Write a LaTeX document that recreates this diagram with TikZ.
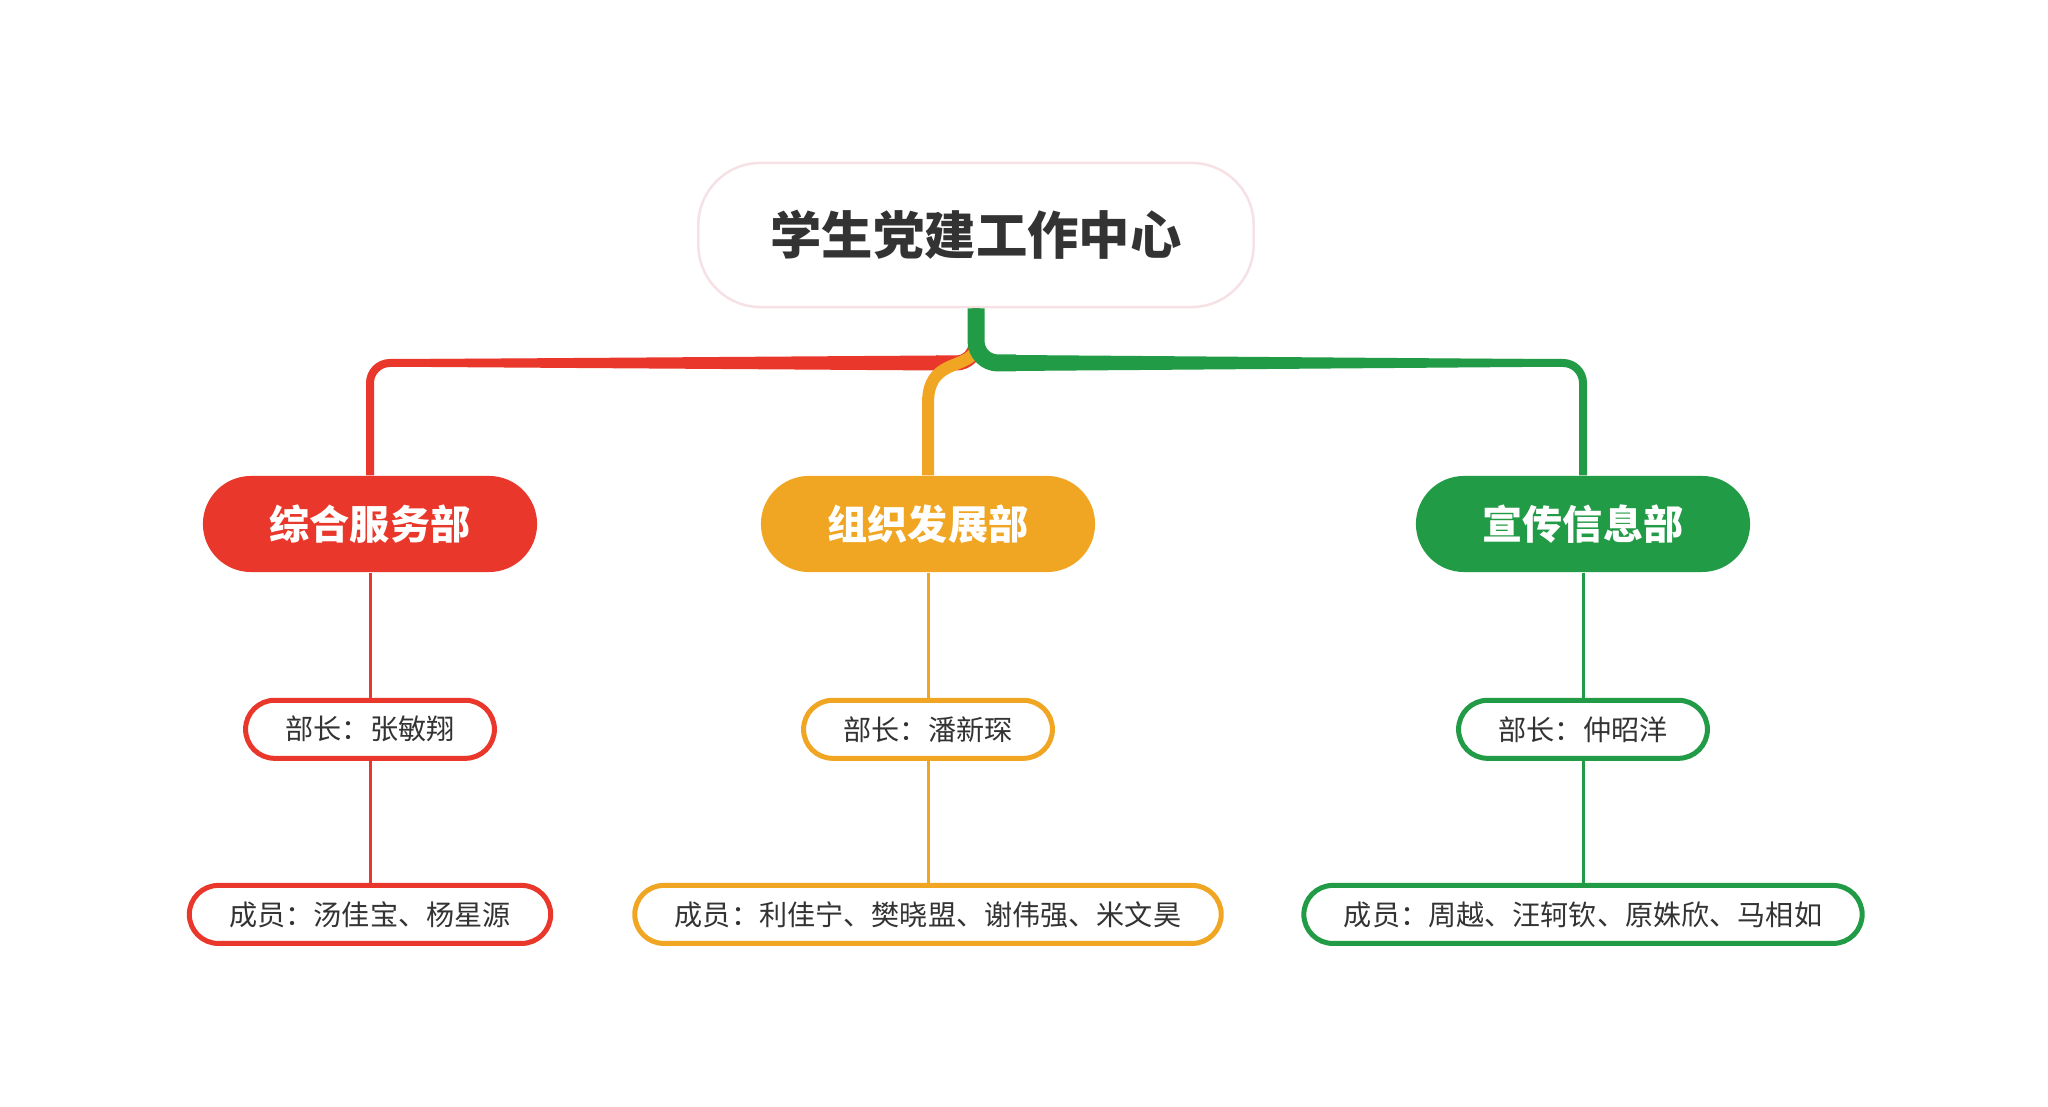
\documentclass[tikz,border=0pt]{standalone}
\usepackage{fontspec}
\setmainfont{Noto Sans CJK SC}
\usetikzlibrary{positioning,calc}
\definecolor{deptRed}{HTML}{E9382B}
\definecolor{deptOrange}{HTML}{F0A623}
\definecolor{deptGreen}{HTML}{219B45}
\definecolor{txtGray}{HTML}{333333}
\definecolor{glowPink}{HTML}{F6E1E5}
\begin{document}
\begin{tikzpicture}[x=0.01cm,y=-0.01cm]
\tikzset{centerbox/.style={draw=glowPink,line width=0.025cm,fill=white,rounded corners=0.62cm,
  minimum width=5.55cm,minimum height=1.44cm,text=txtGray,font=\bfseries\fontsize{14.6}{18}\selectfont}}
\tikzset{dept/.style={fill=#1,text=white,rounded corners=0.48cm,minimum width=3.34cm,
  minimum height=0.96cm,font=\bfseries\fontsize{11.4}{14}\selectfont}}
\tikzset{lead/.style={draw=#1,line width=0.05cm,fill=white,rounded corners=0.29cm,
  minimum height=0.58cm,inner xsep=0.4cm,text=txtGray,font=\fontsize{8}{10}\selectfont}}
\tikzset{branch/.style={draw=#1,line width=0.03cm}}
\useasboundingbox (0,0) rectangle (2048,1107);
%centre
\node[centerbox] (ctr) at (976,235) {学生党建工作中心};
\coordinate (hub) at (976,363);
%departments, heads and members
\foreach \key/\xLoc/\col/\dname/\hname/\mname in {
  R/370/deptRed/综合服务部/张敏翔/汤佳宝、杨星源,
  O/928/deptOrange/组织发展部/潘新琛/利佳宁、樊晓盟、谢伟强、米文昊,
  G/1583/deptGreen/宣传信息部/仲昭洋/周越、汪轲钦、原姝欣、马相如}{
\node[dept=\col] (d\key) at (\xLoc,524) {\dname};
\node[lead=\col,below=1.25cm of d\key] (l\key) {部长：\hname};
\node[lead=\col,below=1.22cm of l\key] (m\key) {成员：\mname};
\draw[branch=\col] (d\key.south)--(l\key.north) (l\key.south)--(m\key.north);}
%red trunk
\draw[deptRed,line width=0.08cm,rounded corners=0.2cm] (ctr.south)--(hub)-|(dR.north);
\draw[deptRed,line width=0.15cm,rounded corners=0.2cm] ($(ctr.south)+(0,30)$)--(hub)--++(-40,0);
\fill[deptRed] ($(hub)+(-38,-7.5)$)--($(dR.north |- hub)+(60,-4)$)--++(0,8)--($(hub)+(-38,7.5)$)--cycle;
%orange trunk
\draw[deptOrange,line width=0.12cm] ($(hub)+(-2,-10)$) .. controls +(-12,16) and +(0,-42) .. ($(dO.north |- hub)+(0,40)$)--(dO.north);
%green trunk
\draw[deptGreen,line width=0.08cm,rounded corners=0.2cm] (ctr.south)--(hub)-|(dG.north);
\draw[deptGreen,line width=0.17cm,rounded corners=0.22cm] (ctr.south)--(hub)--++(40,0);
\fill[deptGreen] ($(hub)+(38,-8)$)--($(dG.north |- hub)+(-60,-4)$)--++(0,8)--($(hub)+(38,8)$)--cycle;
\end{tikzpicture}
\end{document}
